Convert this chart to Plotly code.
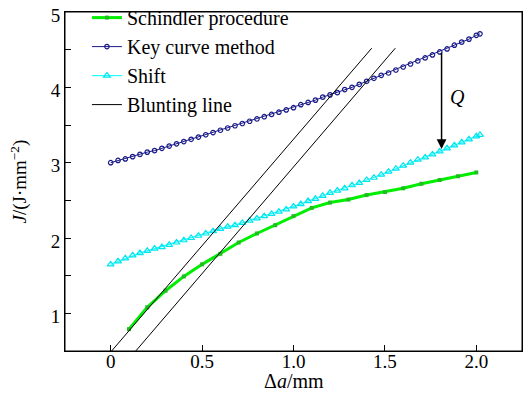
import plotly.graph_objects as go

# ---- data ----
sch_x = [0.1, 0.2, 0.3, 0.4, 0.5, 0.6, 0.7, 0.8, 0.9, 1.0,
         1.1, 1.2, 1.3, 1.4, 1.5, 1.6, 1.7, 1.8, 1.9, 2.0]
sch_j = [0.79, 1.08, 1.30, 1.49, 1.65, 1.79, 1.94, 2.06, 2.17, 2.29,
         2.40, 2.47, 2.51, 2.57, 2.61, 2.66, 2.72, 2.77, 2.82, 2.87]

curve_x = [0.00, 0.04, 0.08, 0.12, 0.16, 0.20, 0.24, 0.28, 0.32, 0.36,
           0.40, 0.44, 0.48, 0.52, 0.56, 0.60, 0.64, 0.68, 0.72, 0.76,
           0.80, 0.84, 0.88, 0.92, 0.96, 1.00, 1.04, 1.08, 1.12, 1.16,
           1.20, 1.24, 1.28, 1.32, 1.36, 1.40, 1.44, 1.48, 1.52, 1.56,
           1.60, 1.64, 1.68, 1.72, 1.76, 1.80, 1.84, 1.88, 1.92, 1.96,
           2.00, 2.02]
key_j = [3.00, 3.03, 3.05, 3.08, 3.11, 3.14, 3.16, 3.19, 3.22, 3.25,
         3.28, 3.31, 3.34, 3.37, 3.40, 3.43, 3.46, 3.49, 3.52, 3.55,
         3.58, 3.61, 3.64, 3.67, 3.70, 3.73, 3.77, 3.80, 3.83, 3.87,
         3.90, 3.93, 3.97, 4.00, 4.04, 4.08, 4.12, 4.16, 4.19, 4.23,
         4.27, 4.31, 4.35, 4.39, 4.43, 4.47, 4.51, 4.56, 4.60, 4.64,
         4.69, 4.71]
shift_j = [1.65, 1.69, 1.73, 1.77, 1.80, 1.83, 1.86, 1.88, 1.91, 1.94,
           1.97, 2.00, 2.03, 2.06, 2.09, 2.12, 2.15, 2.17, 2.20, 2.23,
           2.26, 2.29, 2.32, 2.35, 2.38, 2.42, 2.45, 2.49, 2.52, 2.56,
           2.60, 2.63, 2.66, 2.70, 2.73, 2.77, 2.80, 2.84, 2.88, 2.92,
           2.96, 3.00, 3.04, 3.07, 3.11, 3.15, 3.19, 3.23, 3.27, 3.31,
           3.35, 3.37]

blunt1_x = [0.005, 1.428]
blunt2_x = [0.137, 1.557]
blunt_j = [0.5, 4.52]

q_x = 1.81
q_top = 4.48
q_bottom = 3.18

xtick_vals = [0, 0.5, 1.0, 1.5, 2.0]
xtick_text = ["0", "0.5", "1.0", "1.5", "2.0"]
ytick_vals = [1, 2, 3, 4, 5]
ytick_text = ["1", "2", "3", "4", "5"]

SERIF = "Liberation Serif"

fig = go.Figure()

fig.add_trace(go.Scatter(
    x=sch_x, y=sch_j, mode="lines+markers", name="Schindler procedure",
    line=dict(color="#00ee00", width=3),
    marker=dict(symbol="square", size=4, color="#22bb22"),
))
fig.add_trace(go.Scatter(
    x=curve_x, y=key_j, mode="lines+markers", name="Key curve method",
    line=dict(color="#1a1a8a", width=1),
    marker=dict(symbol="circle-open", size=4.5, color="#1a1a8a", line=dict(width=1.2)),
))
fig.add_trace(go.Scatter(
    x=curve_x, y=shift_j, mode="lines+markers", name="Shift",
    line=dict(color="#22ffff", width=1.2),
    marker=dict(symbol="triangle-up-open", size=6, color="#00e5ee", line=dict(width=1.2)),
))
fig.add_trace(go.Scatter(
    x=blunt1_x, y=blunt_j, mode="lines", name="Blunting line",
    line=dict(color="black", width=1),
))
fig.add_trace(go.Scatter(
    x=blunt2_x, y=blunt_j, mode="lines", name="Blunting line",
    line=dict(color="black", width=1), showlegend=False,
))

fig.add_annotation(
    x=q_x, y=q_bottom, ax=q_x, ay=q_top, xref="x", yref="y", axref="x", ayref="y",
    showarrow=True, arrowhead=2, arrowsize=1.3, arrowwidth=1.5, arrowcolor="black", text="",
)
fig.add_annotation(
    x=1.895, y=3.87, xref="x", yref="y", text="<i>Q</i>", showarrow=False,
    font=dict(family=SERIF, size=20, color="black"),
)
# axis titles
fig.add_annotation(
    x=0.5, y=0, xref="paper", yref="paper", yshift=-30, text="Δ<i>a</i>/mm",
    showarrow=False, font=dict(family=SERIF, size=20, color="black"),
    xanchor="center", yanchor="middle",
)
fig.add_annotation(
    x=0, y=0.5, xref="paper", yref="paper", xshift=-46, text="<i>J</i>/(J·mm<sup>−2</sup>)",
    showarrow=False, textangle=-90, font=dict(family=SERIF, size=19, color="black"),
    xanchor="center", yanchor="middle",
)

# plot frame (top/right edges)
fig.add_shape(type="rect", xref="paper", yref="paper", x0=0, y0=0, x1=1, y1=1,
              line=dict(color="black", width=1), layer="above")

# the page body has an 8px margin, so the figure is drawn 8px right/down
fig.update_layout(
    width=523, height=390,
    margin=dict(l=57, r=9, t=4, b=47, autoexpand=False),
    paper_bgcolor="white", plot_bgcolor="white",
    font=dict(family=SERIF, size=15, color="black"),
    showlegend=True,
    legend=dict(
        x=0.048, y=1.041, xanchor="left", yanchor="top",
        bgcolor="rgba(0,0,0,0)", borderwidth=0,
        font=dict(family=SERIF, size=20, color="black"),
        itemwidth=30, tracegroupgap=0,
    ),
    xaxis=dict(
        range=[-0.25, 2.25], tickvals=xtick_vals, ticktext=xtick_text,
        ticks="inside", ticklen=6, tickcolor="black", ticklabelstandoff=-7,
        ticklabeloverflow="allow",
        showline=True, linecolor="black", linewidth=1, mirror=True,
        showgrid=False, zeroline=False, automargin=False,
        tickfont=dict(family=SERIF, size=19),
    ),
    yaxis=dict(
        range=[0.5, 5.0], tickvals=ytick_vals, ticktext=ytick_text,
        ticks="inside", ticklen=6, tickcolor="black",
        ticklabeloverflow="allow", ticklabelshift=3,
        minor=dict(tickvals=[1.5, 2.5, 3.5, 4.5], ticks="inside", ticklen=6, tickcolor="black"),
        showline=True, linecolor="black", linewidth=1, mirror=True,
        showgrid=False, zeroline=False, automargin=False,
        tickfont=dict(family=SERIF, size=19),
    ),
)

fig.write_html("out.html")
